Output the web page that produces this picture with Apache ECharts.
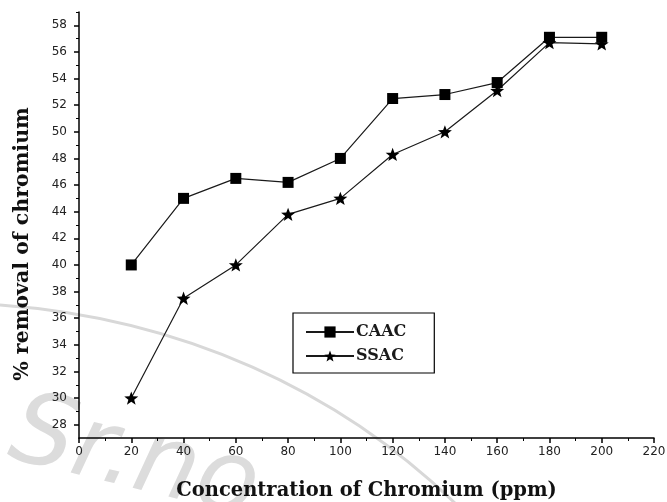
<!DOCTYPE html>
<html>

<head>
	<meta charset="utf-8" />
	<title>% removal of chromium</title>
	<script src="https://cdn.jsdelivr.net/npm/echarts@6/dist/echarts.min.js"></script>
	<style>
		* {
			margin: 0;
			padding: 0;
		}

		html,
		body {
			width: 100%;
			height: 100%;
			background: #fff;
		}

		#main {
			width: 667px;
			height: 502px;
		}
	</style>
</head>

<body>
	<div id="main"></div>
	<script>
		// 浓度 (ppm)
		var concentration = [20, 40, 60, 80, 100, 120, 140, 160, 180, 200];
		// 去除率 %
		var caac = [40, 45, 46.5, 46.2, 48, 52.5, 52.8, 53.7, 57.1, 57.1];
		var ssac = [30, 37.5, 40, 43.8, 45, 48.3, 50, 53.1, 56.7, 56.6];
		// 坐标轴刻度
		var yMajor = [28, 30, 32, 34, 36, 38, 40, 42, 44, 46, 48, 50, 52, 54, 56, 58];
		var yMinor = [29, 31, 33, 35, 37, 39, 41, 43, 45, 47, 49, 51, 53, 55, 57, 59];

		var star = 'path://M100,0 L124.5,66.3 L195.1,69.1 L139.6,113 L158.8,180.9 L100,141.5 L41.2,180.9 L60.4,113 L4.9,69.1 L75.5,66.3 Z';

		function pairs(xs, ys) {
			var out = [];
			for (var i = 0; i < xs.length; i++) {
				out.push([xs[i], ys[i]]);
			}
			return out;
		}

		var serif = 'DejaVu Serif';
		var tickFont = { color: '#222', fontSize: 12, fontFamily: 'DejaVu Sans' };

		var myChart = echarts.init(document.getElementById('main'));
		var option = {
			animation: false,
			backgroundColor: '#fff',
			grid: {
				left: 79,
				right: 13,
				top: 12,
				bottom: 64,
				outerBoundsMode: 'none'
			},
			// 水印 + 纵轴标题
			graphic: [{
				type: 'bezierCurve',
				z: 0,
				silent: true,
				shape: { x1: 0, y1: 305, cpx1: 180, cpy1: 318, cpx2: 340, cpy2: 390, x2: 460, y2: 508 },
				style: { stroke: '#d8d8d8', lineWidth: 3, fill: null }
			}, {
				type: 'text',
				z: 0,
				silent: true,
				x: 0,
				y: 480,
				rotation: -0.24,
				style: {
					text: 'Sr.no',
					fill: '#dcdcdc',
					font: 'italic 100px "DejaVu Sans"',
					textVerticalAlign: 'bottom'
				}
			}, {
				type: 'text',
				x: 23,
				y: 244,
				rotation: Math.PI / 2,
				style: {
					text: '% removal of chromium',
					fill: '#111',
					font: 'bold 20.5px "DejaVu Serif"',
					textAlign: 'center',
					textVerticalAlign: 'middle'
				}
			}],
			legend: {
				orient: 'vertical',
				left: 293,
				top: 313,
				padding: [11, 28, 9, 12],
				borderColor: '#000',
				borderWidth: 1.2,
				backgroundColor: '#fff',
				itemWidth: 48,
				itemHeight: 14,
				itemGap: 8,
				textStyle: {
					fontFamily: serif,
					fontWeight: 'bold',
					fontSize: 16,
					lineHeight: 16,
					color: '#1a1a1a',
					padding: [0, 0, 0, -3]
				},
				data: ['CAAC', 'SSAC']
			},
			xAxis: {
				type: 'value',
				min: 0,
				max: 220,
				interval: 20,
				name: 'Concentration of Chromium (ppm)',
				nameLocation: 'middle',
				nameGap: 43,
				nameTextStyle: {
					fontFamily: serif,
					fontWeight: 'bold',
					fontSize: 19.5,
					color: '#111'
				},
				axisLine: { lineStyle: { color: '#000', width: 1.5 } },
				axisTick: { length: 5, lineStyle: { color: '#000', width: 1.5 } },
				minorTick: { show: true, splitNumber: 2, length: 3, lineStyle: { color: '#000' } },
				axisLabel: Object.assign({ margin: 8 }, tickFont),
				splitLine: { show: false }
			},
			yAxis: [{
				type: 'value',
				position: 'left',
				min: 27,
				max: 59,
				axisLine: { show: true, lineStyle: { color: '#000', width: 1.5 } },
				axisTick: { show: true, length: 5, customValues: yMajor, lineStyle: { color: '#000', width: 1.5 } },
				axisLabel: Object.assign({ margin: 12, customValues: yMajor }, tickFont),
				splitLine: { show: false }
			}, {
				type: 'value',
				position: 'left',
				min: 27,
				max: 59,
				axisLine: { show: false },
				axisTick: { show: true, length: 3, customValues: yMinor, lineStyle: { color: '#000' } },
				axisLabel: { show: false },
				splitLine: { show: false }
			}],
			series: [{
				name: 'CAAC',
				type: 'line',
				yAxisIndex: 0,
				z: 3,
				data: pairs(concentration, caac),
				symbol: 'rect',
				symbolSize: 11,
				itemStyle: { color: '#000' },
				lineStyle: { color: '#1a1a1a', width: 1.2 }
			}, {
				name: 'SSAC',
				type: 'line',
				yAxisIndex: 0,
				z: 3,
				data: pairs(concentration, ssac),
				symbol: star,
				symbolKeepAspect: true,
				symbolSize: 14,
				itemStyle: { color: '#000' },
				lineStyle: { color: '#1a1a1a', width: 1.2 }
			}]
		};
		myChart.setOption(option);
	</script>
</body>

</html>
